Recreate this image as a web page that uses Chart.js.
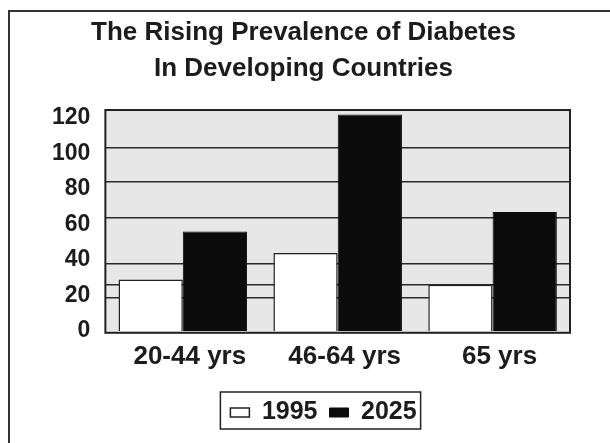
<!DOCTYPE html>
<html><head><meta charset="utf-8">
<script src="https://cdn.jsdelivr.net/npm/chart.js@4/dist/chart.umd.min.js"></script>
<style>
html,body{margin:0;padding:0;background:#fff;overflow:hidden;}
#wrap{position:relative;width:610px;height:443px;overflow:hidden;}
#frame{position:absolute;left:8px;top:10px;width:700px;height:500px;border-top:2px solid #333;border-left:2px solid #333;}
canvas{position:absolute;left:0;top:0;}
</style></head><body>
<div id="wrap"><div id="frame"></div><canvas id="c" width="610" height="443"></canvas></div>
<script>
const categories = ['20-44 yrs', '46-64 yrs', '65 yrs'];
const seriesNames = ['1995', '2025'];
const values1995 = [29, 44, 26];
const values2025 = [56, 122, 67];
const yTickValues = [0, 20, 40, 60, 80, 100, 120];
const gridValues = [19, 26, 38, 64, 84, 103];
const titleLines = ['The Rising Prevalence of Diabetes', 'In Developing Countries'];

const INK = '#1c1c1c';
const FONT = '"Liberation Sans", Arial, sans-serif';

const bgPlugin = {
  id: 'bg',
  afterLayout(chart) {
    const lg = chart.legend;
    if (lg) { lg.left += 20; lg.right += 20; }
  },
  beforeDraw(chart) {
    const a = chart.chartArea, ctx = chart.ctx;
    ctx.save(); ctx.fillStyle = '#e7e7e7';
    ctx.fillRect(a.left, a.top, a.right - a.left, a.bottom - a.top);
    ctx.restore();
  },
  afterDatasetsDraw(chart) {
    const a = chart.chartArea, ctx = chart.ctx;
    ctx.save(); ctx.strokeStyle = '#222'; ctx.lineWidth = 2;
    ctx.strokeRect(a.left, a.top, a.right - a.left, a.bottom - a.top);
    ctx.restore();
  },
  afterDraw(chart) {
    const hb = chart.legend.legendHitBoxes, ctx = chart.ctx;
    if (!hb || !hb.length) return;
    const l = Math.min(...hb.map(h => h.left)), r = Math.max(...hb.map(h => h.left + h.width));
    const t = Math.min(...hb.map(h => h.top)), b = Math.max(...hb.map(h => h.top + h.height));
    ctx.save(); ctx.strokeStyle = '#222'; ctx.lineWidth = 1.5;
    ctx.strokeRect(l - 10, t - 8, (r + 4) - (l - 10), (b + 4) - (t - 8));
    ctx.restore();
  }
};

new Chart(document.getElementById('c'), {
  type: 'bar',
  data: {
    labels: categories,
    datasets: [
      { label: seriesNames[0], data: values1995, backgroundColor: '#ffffff', borderColor: '#222', borderWidth: 1.5, yAxisID: 'y' },
      { label: seriesNames[1], data: values2025, backgroundColor: '#0b0b0b', borderColor: '#0b0b0b', borderWidth: 1, yAxisID: 'y' }
    ]
  },
  options: {
    responsive: false,
    animation: false,
    layout: { padding: { left: 37, right: 40, top: 0, bottom: 8 } },
    datasets: { bar: { categoryPercentage: 0.83, barPercentage: 1.0 } },
    scales: {
      x: {
        grid: { display: false, drawTicks: false },
        border: { display: false },
        ticks: { color: INK, font: { family: FONT, size: 26, weight: 'bold' }, padding: 8, labelOffset: 7 },
        afterFit(s) { s.height += 8; }
      },
      g: {
        position: 'left', min: -1, max: 124.5,
        afterBuildTicks(s) { s.ticks = gridValues.map(v => ({ value: v })); },
        ticks: { display: false },
        grid: { color: '#2a2a2a', lineWidth: 1.5, drawTicks: false },
        border: { display: false }
      },
      y: {
        position: 'left', min: -1, max: 124.5,
        afterBuildTicks(s) { s.ticks = yTickValues.map(v => ({ value: v })); },
        grid: { display: false, drawTicks: false },
        border: { display: false },
        ticks: { color: INK, font: { family: FONT, size: 23, weight: 'bold' }, padding: 15 }
      }
    },
    plugins: {
      title: {
        display: true, text: titleLines, color: INK,
        font: { family: FONT, size: 26, weight: 'bold', lineHeight: 1.385 },
        padding: { top: 15, bottom: 23 }
      },
      legend: {
        position: 'bottom',
        labels: {
          color: INK, boxWidth: 19, boxHeight: 9, padding: 12,
          font: { family: FONT, size: 25, weight: 'bold' }
        }
      },
      tooltip: { enabled: false }
    }
  },
  plugins: [bgPlugin]
});
</script>
</body></html>
